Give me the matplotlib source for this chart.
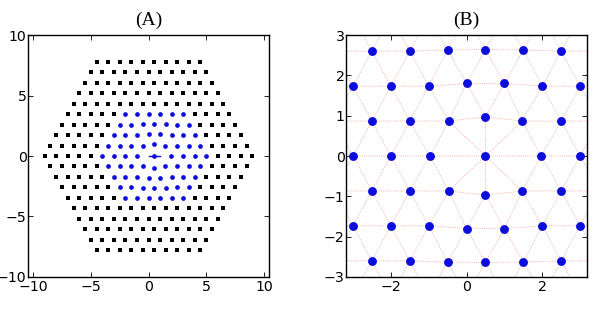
import numpy as np
import matplotlib
matplotlib.use('Agg')
import matplotlib.pyplot as plt
import matplotlib.tri as mtri

plt.rcParams['font.family'] = ['DejaVu Sans']

# lattice row spacing
row_h = 0.866

# black squares: (row index, first x, last x), unit spacing along a row
black_segments = [
    (9, -4.5, 4.5), (8, -5, 5), (7, -5.5, 5.5), (6, -6, 6), (5, -6.5, 6.5),
    (4, -7, -3), (4, 4, 7), (3, -7.5, -3.5), (3, 4.5, 7.5),
    (2, -8, -4), (2, 5, 8), (1, -8.5, -4.5), (1, 5.5, 8.5),
    (0, -9, -5), (0, 6, 9),
    (-1, -8.5, -4.5), (-1, 5.5, 8.5), (-2, -8, -4), (-2, 5, 8),
    (-3, -7.5, -3.5), (-3, 4.5, 7.5), (-4, -7, -3), (-4, 4, 7),
    (-5, -6.5, 6.5), (-6, -6, 6), (-7, -5.5, 5.5), (-8, -5, 5), (-9, -4.5, 4.5),
]

# blue (relaxed) points around the defect
blue_x = [
    -2, -1, 0, 1, 2, 3,
    -2.5, -1.5, -0.5, 0.5, 1.5, 2.5, 3.5,
    -3, -2, -1, 0, 1, 2, 3, 4,
    -3.5, -2.5, -1.5, -0.47, 0.5, 1.47, 2.5, 3.5, 4.5,
    -4, -3, -2, -0.97, 0.5, 1.97, 3, 4, 5,
    -3.5, -2.5, -1.5, -0.47, 0.5, 1.47, 2.5, 3.5, 4.5,
    -3, -2, -1, 0, 1, 2, 3, 4,
    -2.5, -1.5, -0.5, 0.5, 1.5, 2.5, 3.5,
    -2, -1, 0, 1, 2, 3,
]
blue_y = [
    3.46, 3.46, 3.46, 3.46, 3.46, 3.46,
    2.6, 2.6, 2.63, 2.64, 2.63, 2.6, 2.6,
    1.73, 1.73, 1.73, 1.8, 1.8, 1.73, 1.73, 1.73,
    0.866, 0.866, 0.866, 0.866, 0.97, 0.866, 0.866, 0.866, 0.866,
    0, 0, 0, 0, 0, 0, 0, 0, 0,
    -0.866, -0.866, -0.866, -0.866, -0.97, -0.866, -0.866, -0.866, -0.866,
    -1.73, -1.73, -1.73, -1.8, -1.8, -1.73, -1.73, -1.73,
    -2.6, -2.6, -2.63, -2.64, -2.63, -2.6, -2.6,
    -3.46, -3.46, -3.46, -3.46, -3.46, -3.46,
]

# short marker line through the defect in panel A
defect_x = [0, 1]
defect_y = [0, 0]

bx, by = [], []
for k, x0, x1 in black_segments:
    xs = np.arange(x0, x1 + 0.01, 1.0)
    bx.extend(xs)
    by.extend([k * row_h] * len(xs))
bx = np.array(bx)
by = np.array(by)
blue_x = np.array(blue_x, dtype=float)
blue_y = np.array(blue_y, dtype=float)

blue_c = '#0c0cdc'
title_font = ['Liberation Serif', 'DejaVu Serif']

fig = plt.figure(figsize=(5.97, 3.12), dpi=100)
axA = fig.add_axes([0.0469, 0.1122, 0.4037, 0.7756])
axB = fig.add_axes([0.5796, 0.1122, 0.4037, 0.7756])

axA.plot(bx, by, 's', color='black', markersize=3, markeredgewidth=0)
axA.plot(blue_x, blue_y, 'o', color=blue_c, markersize=3.4, markeredgewidth=0)
axA.plot(defect_x, defect_y, '-', color=blue_c, lw=1)
axA.set_xlim(-10.45, 10.45)
axA.set_ylim(-10, 10)
axA.set_xticks([-10, -5, 0, 5, 10])
axA.set_yticks([-10, -5, 0, 5, 10])
axA.set_title('(A)', family=title_font, fontsize=14, pad=7)

allx = np.concatenate([bx, blue_x])
ally = np.concatenate([by, blue_y])
tri = mtri.Triangulation(allx, ally)
axB.triplot(tri, color='#e87878', lw=0.6, alpha=0.75, linestyle=(0, (1, 1.6)))
axB.plot(blue_x, blue_y, 'o', color=blue_c, markersize=6.4, markeredgewidth=0)
axB.set_xlim(-3.18, 3.18)
axB.set_ylim(-3, 3)
axB.set_xticks([-2, 0, 2])
axB.set_yticks([-3, -2, -1, 0, 1, 2, 3])
axB.set_title('(B)', family=title_font, fontsize=14, pad=7)

for ax in (axA, axB):
    ax.tick_params(direction='in', top=True, right=True, length=3.5, width=0.6,
                   labelsize=10.2, pad=2)
    ax.tick_params(axis='y', pad=1)
    for s in ax.spines.values():
        s.set_linewidth(1.0)

fig.savefig('out.png', dpi=100)
